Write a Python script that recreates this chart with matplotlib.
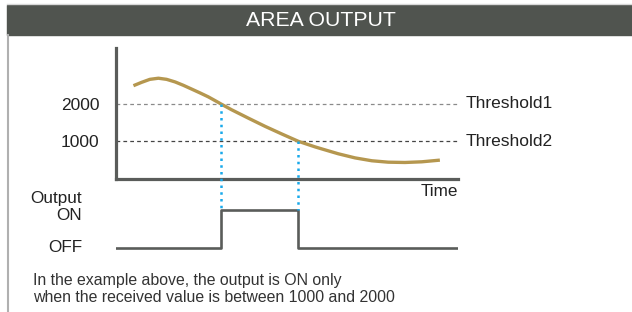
import matplotlib
matplotlib.use("Agg")
import matplotlib.pyplot as plt
from matplotlib.patches import Rectangle
from matplotlib.lines import Line2D

plt.rcParams["font.family"] = ["Liberation Sans", "DejaVu Sans"]

# --- data ------------------------------------------------------------------
time = [0.51, 0.75, 0.99, 1.24, 1.48, 1.73, 1.97, 2.21, 2.46, 2.70, 2.94,
        3.07, 3.38, 3.87, 4.36, 4.85, 5.33, 5.82, 6.02, 6.50, 6.99, 7.48,
        7.96, 8.45, 8.94, 9.47]
value = [2490, 2580, 2660, 2690, 2660, 2590, 2500, 2400, 2295, 2190, 2068,
         2000, 1845, 1620, 1400, 1195, 1000, 850, 795, 665, 555, 478,
         440, 432, 450, 495]

thresholds = [2000, 1000]
threshold_labels = ["Threshold1", "Threshold2"]
crossings = [3.07, 5.33]           # time where the value passes each threshold

out_time = [0, 3.07, 5.33, 10]     # output switches (step, post)
out_state = [0, 1, 0, 0]

TITLE = "AREA OUTPUT"
NOTE = ["In the example above, the output is ON only",
        "when the received value is between 1000 and 2000"]

W, H = 632, 312
AXIS_C = "#5a5c5a"
CURVE_C = "#b5974f"
BLUE = "#19a9ea"
TEXT_C = "#222222"


def fx(px):
    return px / W


def fy(py):
    return 1 - py / H


fig = plt.figure(figsize=(W / 100, H / 100), dpi=100)

# header bar + frame
fig.patches.append(Rectangle((fx(7), fy(35)), 1 - fx(7), fy(5) - fy(35),
                             transform=fig.transFigure, color="#50544f", zorder=0))
fig.lines.append(Line2D([fx(7), 1], [fy(4), fy(4)], transform=fig.transFigure,
                        color="#d8d8d8", lw=1))
fig.lines.append(Line2D([fx(8), fx(8)], [fy(35), 0], transform=fig.transFigure,
                        color="#b0b0b0", lw=1.5))
fig.text(fx(321), fy(20), TITLE, color="white", fontsize=15.3, ha="center", va="center")

# --- upper panel: received value ------------------------------------------
ax1 = fig.add_axes([fx(116), fy(178.6), fx(458) - fx(116), fy(48) - fy(178.6)])
ax1.set_xlim(0, 10)
ax1.set_ylim(0, 3500)
ax1.plot(time, value, color=CURVE_C, lw=2.4, solid_capstyle="butt",
         solid_joinstyle="round", zorder=3)
for th, lab, c in zip(thresholds, threshold_labels, ["#8a8a8a", "#444444"]):
    ax1.axhline(th, color=c, lw=0.9, ls=(0, (3, 2.5)), zorder=1)
    ax1.text(1 + 8 / 342, th, lab, transform=ax1.get_yaxis_transform(),
             fontsize=12.5, color=TEXT_C, va="center", ha="left")
ax1.set_yticks(thresholds)
ax1.set_yticklabels([str(t) for t in thresholds], fontsize=12.5, color=TEXT_C)
ax1.tick_params(axis="y", length=0, pad=12)
ax1.set_xticks([])
for s in ["top", "right"]:
    ax1.spines[s].set_visible(False)
for s in ["left", "bottom"]:
    ax1.spines[s].set_color(AXIS_C)
    ax1.spines[s].set_linewidth(2.3)
ax1.text(1, -(192 - 178.6) / 130.6, "Time", transform=ax1.transAxes,
         fontsize=12.3, color=TEXT_C, ha="right", va="center")
ax1.patch.set_visible(False)

# --- lower panel: output state --------------------------------------------
ax2 = fig.add_axes([fx(116), fy(260), fx(458) - fx(116), fy(200) - fy(260)])
ax2.set_xlim(0, 10)
ax2.set_ylim(-0.3, 1.26)
ax2.step(out_time, out_state, where="post", color=AXIS_C, lw=1.9)
ax2.axis("off")

fig.text(fx(82), fy(199), "Output", fontsize=12.3, color=TEXT_C, ha="right", va="center")
fig.text(fx(82), fy(216), "ON", fontsize=12.3, color=TEXT_C, ha="right", va="center")
fig.text(fx(82), fy(247), "OFF", fontsize=12.3, color=TEXT_C, ha="right", va="center")

# blue dotted guides from the threshold crossings down to the ON level
to_fig = fig.transFigure.inverted()
for t, th in zip(crossings, thresholds):
    top = to_fig.transform(ax1.transData.transform((t, th)))
    bot = to_fig.transform(ax2.transData.transform((t, 1)))
    fig.lines.append(Line2D([top[0], bot[0]], [top[1], bot[1]],
                            transform=fig.transFigure, color=BLUE, lw=1.8,
                            ls=(0, (1, 1.7)), dash_capstyle="butt", zorder=2))

fig.text(fx(33), fy(280), NOTE[0], fontsize=11.4, color="#333333", va="center")
fig.text(fx(33), fy(298), NOTE[1], fontsize=11.4, color="#333333", va="center")

fig.savefig("out.png", dpi=100)
